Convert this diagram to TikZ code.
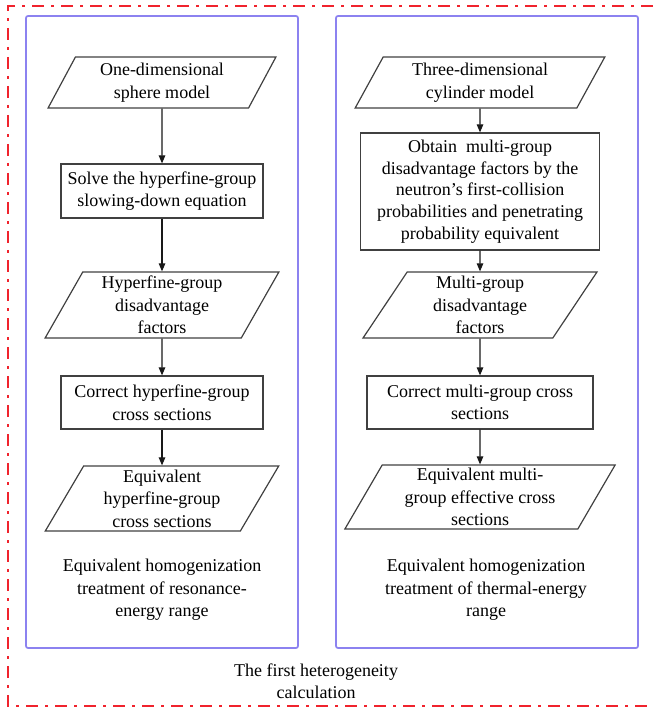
\documentclass[tikz,border=0pt]{standalone}
\usepackage{fontspec}
\setmainfont{Liberation Serif}
\usetikzlibrary{shapes.geometric,arrows.meta}
\definecolor{grpblue}{RGB}{140,130,240}
\definecolor{outerred}{RGB}{240,35,45}
\tikzset{%
    flowbox/.style={%
        draw=black!75, line width=1.2pt, align=center, inner sep=1pt,
        font=\fontsize{18}{22.5}\selectfont
    },
    stepbox/.style 2 args={flowbox, rectangle, minimum width=#1, minimum height=#2},
    databox/.style 2 args={%
        flowbox, trapezium, trapezium left angle=64, trapezium right angle=116,
        trapezium stretches=true, minimum width=#1, minimum height=#2
    },
    flowarrow/.style={-{Triangle[length=8pt,width=6.5pt]}, line width=1.1pt, draw=black!90},
    groupbox/.style={draw=grpblue, line width=1.7pt, rounded corners=2pt},
    notetext/.style={align=center, font=\fontsize{18}{22.5}\selectfont}
}

\begin{document}
\begin{tikzpicture}[x=1pt, y=-1pt]
\useasboundingbox (0,0) rectangle (653,708);

\draw[outerred, line width=1.5pt, dash pattern=on 12pt off 7pt on 3pt off 7pt]
    (653,6) -- (8,6) -- (8,706) -- (653,706);
\draw[groupbox] (26,16) rectangle (298,648);
\draw[groupbox] (336,16) rectangle (638,648);

% resonance-energy range
\node[databox={228pt}{51pt}] (sphere) at (162,82.5) {One-dimensional\\sphere model};
\node[stepbox={202pt}{54pt}] (slowdown) at (162,191) {Solve the hyperfine-group\\slowing-down equation};
\node[databox={234pt}{66pt}] (hfdis) at (162,305) {Hyperfine-group\\disadvantage\\factors};
\node[stepbox={202pt}{53pt}] (hfcorr) at (162,402.5) {Correct hyperfine-group\\cross sections};
\node[databox={234pt}{65pt}] (hfeq) at (162,498.5) {Equivalent\\hyperfine-group\\cross sections};
\node[notetext] (resnote) at (162,590) {Equivalent homogenization\\treatment of resonance-\\energy range};

% thermal-energy range
\node[databox={250pt}{51pt}] (cylinder) at (480,82.5) {Three-dimensional\\cylinder model};
\node[stepbox={239pt}{117pt}, font=\fontsize{18}{21.7}\selectfont] (collision) at (480,191.5) {Obtain\ \ multi-group\\disadvantage factors by the\\neutron’s first-collision\\probabilities and penetrating\\probability equivalent};
\node[databox={234pt}{66pt}] (mgdis) at (480,305) {Multi-group\\disadvantage\\factors};
\node[stepbox={226pt}{53pt}] (mgcorr) at (480,402.5) {Correct multi-group cross\\sections};
\node[databox={271pt}{64pt}] (mgeq) at (480,497) {Equivalent multi-\\group effective cross\\sections};
\node[notetext] (thermnote) at (486,590) {Equivalent homogenization\\treatment of thermal-energy\\range};

\node[notetext] (title) at (316,681) {The first heterogeneity\\calculation};

\draw[flowarrow] (sphere) -- (slowdown);
\draw[flowarrow] (slowdown) -- (hfdis);
\draw[flowarrow] (hfdis) -- (hfcorr);
\draw[flowarrow] (hfcorr) -- (hfeq);
\draw[flowarrow] (cylinder) -- (collision);
\draw[flowarrow] (collision) -- (mgdis);
\draw[flowarrow] (mgdis) -- (mgcorr);
\draw[flowarrow] (mgcorr) -- (mgeq);
\end{tikzpicture}
\end{document}
